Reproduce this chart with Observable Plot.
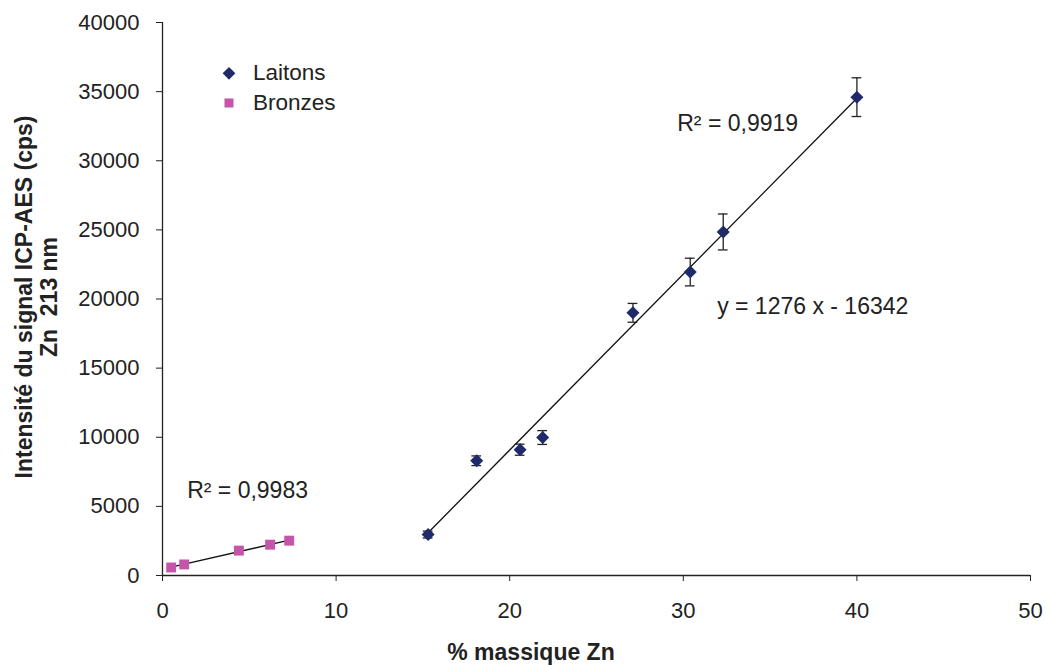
<!DOCTYPE html>
<html>
<head>
<meta charset="utf-8">
<script src="https://cdn.jsdelivr.net/npm/d3@7"></script>
<script src="https://cdn.jsdelivr.net/npm/@observablehq/plot@0.6"></script>
<style>
  html, body { margin: 0; padding: 0; background: #fff; }
  #wrap { position: relative; width: 1047px; height: 666px; overflow: hidden; font-family: "Liberation Sans", Arial, sans-serif; color: #222; }
  #ylab { position: absolute; left: 37px; top: 297px; transform: translate(-50%, -50%) rotate(-90deg); white-space: nowrap; text-align: center; font-weight: bold; font-size: 23px; line-height: 25px; }
  #xlab { position: absolute; left: 531px; top: 641px; transform: translateX(-50%); font-weight: bold; font-size: 23px; line-height: 23px; white-space: nowrap; }
  .leg { position: absolute; left: 253px; font-size: 22.5px; line-height: 24px; transform: translateY(-50%); }
  .sym { position: absolute; }
</style>
</head>
<body>
<div id="wrap"></div>
<script>
// Laitons (brass)
const laitonsX = [15.3, 18.1, 20.6, 21.9, 27.1, 30.4, 32.3, 40.0];
const laitonsY = [2960, 8300, 9100, 9980, 19000, 21950, 24850, 34600];
const laitonsErr = [250, 350, 400, 500, 680, 1000, 1300, 1400];
// Bronzes
const bronzesX = [0.5, 1.25, 4.4, 6.2, 7.3];
const bronzesY = [580, 800, 1800, 2230, 2520];
// axis ticks
const xTicks = [0, 10, 20, 30, 40, 50];
const yTicks = [0, 5000, 10000, 15000, 20000, 25000, 30000, 35000, 40000];
// annotations
const notes = [
  {x: 29.65, y: 32650, text: "R² = 0,9919"},
  {x: 31.95, y: 19460, text: "y = 1276 x - 16342"},
  {x: 1.42, y: 6130, text: "R² = 0,9983"}
];

const laitons = laitonsX.map((x, i) => ({x, y: laitonsY[i], e: laitonsErr[i]}));
const bronzes = bronzesX.map((x, i) => ({x, y: bronzesY[i]}));
const navy = "#1f2a6b", pink = "#c455a8";
const cap = 0.28;

const plot = Plot.plot({
  width: 1047,
  height: 666,
  marginLeft: 162,
  marginRight: 17,
  marginTop: 22,
  marginBottom: 91,
  style: {fontFamily: "Liberation Sans, Arial, sans-serif", fontSize: "22px", color: "#222", background: "#fff"},
  x: {domain: [0, 50], ticks: xTicks},
  y: {domain: [0, 40000], ticks: yTicks},
  marks: [
    Plot.axisX({ticks: xTicks, tickSize: 6, tickPadding: 21, tickFormat: d => String(d), label: null, stroke: "#222", fontSize: 22}),
    Plot.axisY({ticks: yTicks, tickSize: 6, tickPadding: 17, tickFormat: d => String(d), label: null, stroke: "#222", fontSize: 22}),
    Plot.ruleX([0], {stroke: "#222", strokeWidth: 1.3}),
    Plot.ruleY([0], {stroke: "#222", strokeWidth: 1.3}),
    Plot.linearRegressionY(laitons, {x: "x", y: "y", ci: 0, stroke: "#111", strokeWidth: 1.3}),
    Plot.linearRegressionY(bronzes, {x: "x", y: "y", ci: 0, stroke: "#111", strokeWidth: 1.3}),
    Plot.ruleX(laitons, {x: "x", y1: d => d.y - d.e, y2: d => d.y + d.e, stroke: "#222", strokeWidth: 1.3}),
    Plot.ruleY(laitons, {y: d => d.y - d.e, x1: d => d.x - cap, x2: d => d.x + cap, stroke: "#222", strokeWidth: 1.3}),
    Plot.ruleY(laitons, {y: d => d.y + d.e, x1: d => d.x - cap, x2: d => d.x + cap, stroke: "#222", strokeWidth: 1.3}),
    Plot.dot(laitons, {x: "x", y: "y", symbol: "square", rotate: 45, r: 5.2, fill: navy, stroke: "none"}),
    Plot.dot(bronzes, {x: "x", y: "y", symbol: "square", r: 5.6, fill: pink, stroke: "none"}),
    Plot.text(notes, {x: "x", y: "y", text: "text", textAnchor: "start", fontSize: 23, fill: "#222"})
  ]
});

const wrap = document.getElementById("wrap");
wrap.appendChild(plot);

const ylab = document.createElement("div");
ylab.id = "ylab";
ylab.innerHTML = "Intensité du signal ICP-AES (cps)<br>Zn&nbsp;&nbsp;213 nm";
wrap.appendChild(ylab);

const xlab = document.createElement("div");
xlab.id = "xlab";
xlab.textContent = "% massique Zn";
wrap.appendChild(xlab);

// legend
const legItems = [
  {label: "Laitons", color: navy, shape: "diamond", top: 73},
  {label: "Bronzes", color: pink, shape: "square", top: 103}
];
for (const it of legItems) {
  const s = document.createElement("div");
  s.className = "sym";
  s.style.left = "229px";
  s.style.top = it.top + "px";
  s.style.background = it.color;
  if (it.shape === "diamond") {
    s.style.width = "8.5px"; s.style.height = "8.5px";
    s.style.transform = "translate(-50%, -50%) rotate(45deg)";
  } else {
    s.style.width = "9px"; s.style.height = "9px";
    s.style.transform = "translate(-50%, -50%)";
  }
  wrap.appendChild(s);
  const t = document.createElement("div");
  t.className = "leg";
  t.style.top = it.top + "px";
  t.textContent = it.label;
  wrap.appendChild(t);
}
</script>
</body>
</html>
